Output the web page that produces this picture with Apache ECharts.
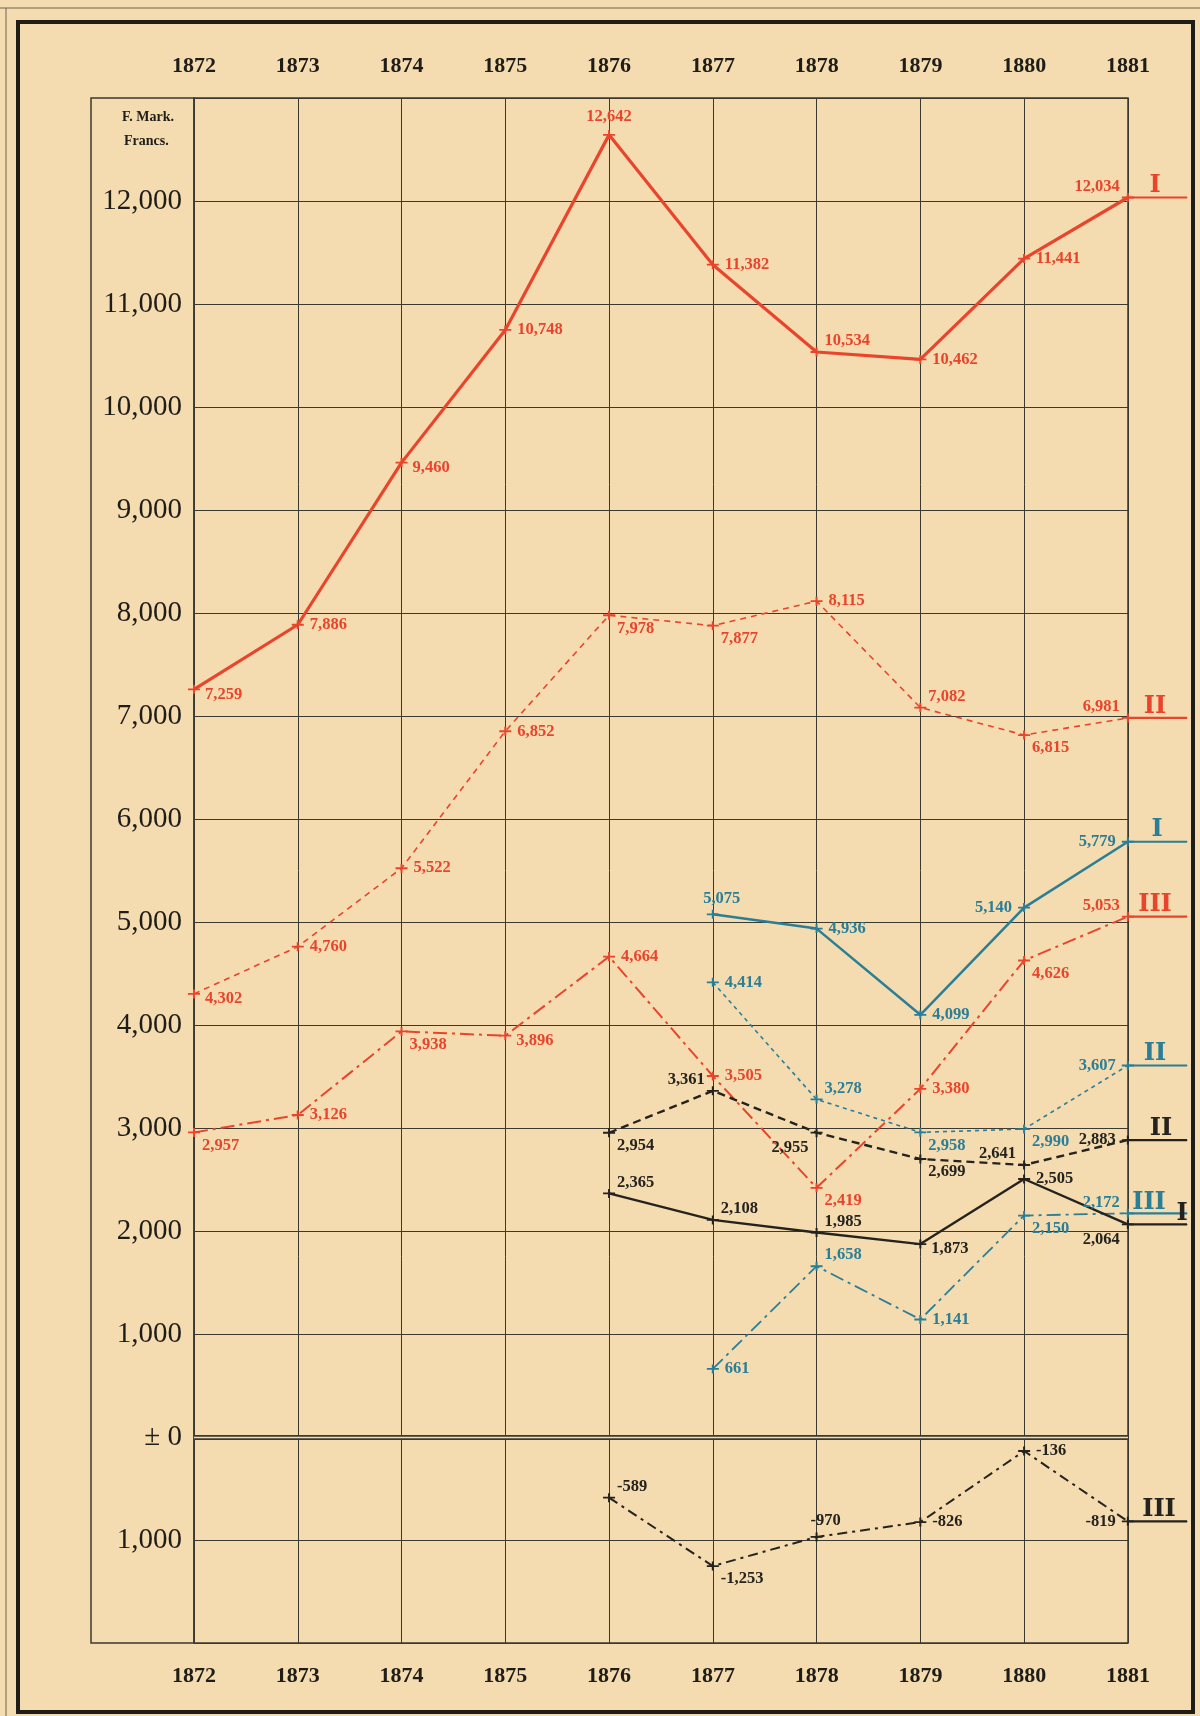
<!DOCTYPE html>
<html>
<head>
<meta charset="utf-8">
<title>1872-1881</title>
<script src="https://cdn.jsdelivr.net/npm/echarts@6/dist/echarts.min.js"></script>
<style>
html, body { margin: 0; padding: 0; background: #f4dbb0; }
#chart { width: 1200px; height: 1716px; }
</style>
</head>
<body>
<div id="chart"></div>
<script>
// years on the axis
var years = [1872, 1873, 1874, 1875, 1876, 1877, 1878, 1879, 1880, 1881];
var yearsBlue = [1877, 1878, 1879, 1880, 1881];
var yearsBlack = [1876, 1877, 1878, 1879, 1880, 1881];

// red group
var redI = [7259, 7886, 9460, 10748, 12642, 11382, 10534, 10462, 11441, 12034];
var redII = [4302, 4760, 5522, 6852, 7978, 7877, 8115, 7082, 6815, 6981];
var redIII = [2957, 3126, 3938, 3896, 4664, 3505, 2419, 3380, 4626, 5053];

// blue group
var blueI = [5075, 4936, 4099, 5140, 5779];
var blueII = [4414, 3278, 2958, 2990, 3607];
var blueIII = [661, 1658, 1141, 2150, 2172];

// black group
var blackI = [2365, 2108, 1985, 1873, 2505, 2064];
var blackII = [2954, 3361, 2955, 2699, 2641, 2883];
var blackIII = [-589, -1253, -970, -826, -136, -819];

var yMin = -2000, yMax = 13000, yStep = 1000;
var tailEnd = 1881.57; // end of the short lines carrying I / II / III

// where each value label sits next to its point
var spots = {
  redI: ["rd", "r", "rd", "r", "t", "r", "tr", "r", "r", "tl"],
  redII: ["rd", "r", "r", "r", "br", "br", "r", "tr", "br", "tl"],
  redIII: ["br", "r", "br", "rd", "r", "r", "br", "r", "br", "tl"],
  blueI: ["tt", "r", "r", "l", "l"],
  blueII: ["r", "tr", "br", "br", "l"],
  blueIII: ["r", "tr", "r", "br", "tl"],
  blackI: ["tr", "tr", "tr", "rd", "r", "bl"],
  blackII: ["br", "tl", "bl", "br", "tl", "l"],
  blackIII: ["tr", "br", "tt", "r", "r", "l"]
};

var RED = "#e8452c", BLUE = "#2a7e96", BLACK = "#24231e", INK = "#3b3a30";
var SERIF = "Liberation Serif, DejaVu Serif, serif";
var HEAVY = "DejaVu Serif, Liberation Serif, serif";

function fmt(v) {
  return (v < 0 ? "-" : "") + Math.abs(v).toLocaleString("en-US");
}

function labelFor(code) {
  switch (code) {
    case "l": return { position: "left", distance: 6 };
    case "t": return { position: "top", distance: 5 };
    case "tt": return { position: "top", distance: 3, offset: [9, 0] };
    case "rd": return { position: "right", distance: 5, offset: [0, 5] };
    case "tr": return { position: "right", distance: 2, offset: [0, -11] };
    case "br": return { position: "right", distance: 2, offset: [0, 13] };
    case "tl": return { position: "left", distance: 2, offset: [0, -11] };
    case "bl": return { position: "left", distance: 2, offset: [0, 15] };
    default: return { position: "right", distance: 6 };
  }
}

var lines = [
  { key: "redI", xs: years, vals: redI, color: RED, type: "solid", width: 3.2, numeral: "I", numOffset: [-32, 1] },
  { key: "redII", xs: years, vals: redII, color: RED, type: [6, 5], width: 1.6, numeral: "II", numOffset: [-32, 1] },
  { key: "redIII", xs: years, vals: redIII, color: RED, type: [14, 5, 3, 5], width: 2, numeral: "III", numOffset: [-32, 1] },
  { key: "blueI", xs: yearsBlue, vals: blueI, color: BLUE, type: "solid", width: 2.5, numeral: "I", numOffset: [-30, 1] },
  { key: "blueII", xs: yearsBlue, vals: blueII, color: BLUE, type: [4, 4], width: 1.6, numeral: "II", numOffset: [-32, 1] },
  { key: "blueIII", xs: yearsBlue, vals: blueIII, color: BLUE, type: [14, 5, 3, 5], width: 1.8, numeral: "III", numOffset: [-38, 2] },
  { key: "blackI", xs: yearsBlack, vals: blackI, color: BLACK, type: "solid", width: 2.4, numeral: "I", numOffset: [-5, 2] },
  { key: "blackII", xs: yearsBlack, vals: blackII, color: BLACK, type: [8, 5], width: 2.4, numeral: "II", numOffset: [-26, 1] },
  { key: "blackIII", xs: yearsBlack, vals: blackIII, color: BLACK, type: [10, 5, 3, 5], width: 2, numeral: "III", numOffset: [-28, 1] }
];

var tick = "path://M0,4 L12,4 L12,6 L0,6 Z M5,0 L7,0 L7,10 L5,10 Z";

var series = [];
lines.forEach(function (s) {
  var spot = spots[s.key];
  series.push({
    name: s.key,
    type: "line",
    xAxisIndex: 2,
    yAxisIndex: 1,
    symbol: tick,
    symbolSize: [12, 9],
    showSymbol: true,
    z: 5,
    itemStyle: { color: s.color },
    lineStyle: { color: s.color, width: s.width, type: s.type },
    label: {
      show: true,
      color: s.color,
      fontFamily: SERIF,
      fontSize: 16.5,
      fontWeight: "bold",
      formatter: function (p) { return fmt(p.value[1]); }
    },
    data: s.xs.map(function (x, i) {
      return { value: [x, s.vals[i]], label: labelFor(spot[i]) };
    })
  });
  var last = s.vals[s.vals.length - 1];
  series.push({
    name: s.key + "-tail",
    type: "line",
    xAxisIndex: 2,
    yAxisIndex: 1,
    symbol: "circle",
    symbolSize: 1,
    showSymbol: true,
    z: 4,
    itemStyle: { color: s.color },
    lineStyle: { color: s.color, width: 2.2, type: "solid" },
    label: { show: false },
    data: [
      [years[years.length - 1], last],
      {
        value: [tailEnd, last],
        label: {
          show: true,
          position: "top",
          distance: 0,
          offset: s.numOffset,
          formatter: s.numeral,
          color: s.color,
          fontFamily: HEAVY,
          fontSize: 24,
          fontWeight: "bold"
        }
      }
    ]
  });
});

// double rule at zero
series.push({
  name: "zero",
  type: "line",
  xAxisIndex: 0,
  yAxisIndex: 0,
  data: [],
  markLine: {
    silent: true,
    symbol: "none",
    label: { show: false },
    data: [
      { yAxis: 0, lineStyle: { color: INK, width: 5, type: "solid" } },
      { yAxis: 0, lineStyle: { color: "#f4dbb0", width: 1.4, type: "solid" } }
    ]
  }
});

var chart = echarts.init(document.getElementById("chart"), null, { renderer: "canvas" });

chart.setOption({
  backgroundColor: "#f4dbb0",
  animation: false,
  grid: [
    { left: 194, right: 72, top: 98, bottom: 73, show: true, borderColor: INK, borderWidth: 1.5, backgroundColor: "transparent" },
    { left: 194, right: 13, top: 98, bottom: 73 }
  ],
  xAxis: [
    {
      gridIndex: 0, type: "category", boundaryGap: false, data: years.map(String), position: "bottom",
      axisLine: { show: false }, axisTick: { show: false },
      splitLine: { show: true, lineStyle: { color: INK, width: 1 } },
      axisLabel: { margin: 22, fontFamily: SERIF, fontSize: 22, fontWeight: "bold", color: "#1e1d18" }
    },
    {
      gridIndex: 0, type: "category", boundaryGap: false, data: years.map(String), position: "top",
      axisLine: { show: false }, axisTick: { show: false }, splitLine: { show: false },
      axisLabel: { margin: 21, fontFamily: SERIF, fontSize: 22, fontWeight: "bold", color: "#1e1d18" }
    },
    { gridIndex: 1, type: "value", min: years[0], max: tailEnd, show: false }
  ],
  yAxis: [
    {
      gridIndex: 0, type: "value", min: yMin, max: yMax, interval: yStep,
      axisLine: { show: false }, axisTick: { show: false },
      splitLine: { show: true, lineStyle: { color: INK, width: 1 } },
      axisLabel: {
        margin: 12, fontFamily: SERIF, fontSize: 29, color: "#1e1d18",
        formatter: function (v) {
          if (v === yMin || v === yMax) return "";
          if (v === 0) return "\u00b1 0";
          return Math.abs(v).toLocaleString("en-US");
        }
      }
    },
    { gridIndex: 1, type: "value", min: yMin, max: yMax, show: false }
  ],
  graphic: [
    { type: "rect", shape: { x: 18, y: 22, width: 1175, height: 1690 }, style: { fill: "none", stroke: "#1e1d18", lineWidth: 4 }, silent: true },
    { type: "line", shape: { x1: 0, y1: 8, x2: 1200, y2: 8 }, style: { stroke: "#6b6656", lineWidth: 1 }, silent: true },
    { type: "line", shape: { x1: 6, y1: 8, x2: 6, y2: 1716 }, style: { stroke: "#6b6656", lineWidth: 1 }, silent: true },
    { type: "rect", shape: { x: 91, y: 98, width: 103, height: 1545 }, style: { fill: "none", stroke: INK, lineWidth: 1.5 }, silent: true },
    { type: "text", left: 122, top: 110, style: { text: "F. Mark.", font: "bold 14px " + SERIF, fill: "#1e1d18" }, silent: true },
    { type: "text", left: 124, top: 134, style: { text: "Francs.", font: "bold 14px " + SERIF, fill: "#1e1d18" }, silent: true }
  ],
  series: series
});
</script>
</body>
</html>
